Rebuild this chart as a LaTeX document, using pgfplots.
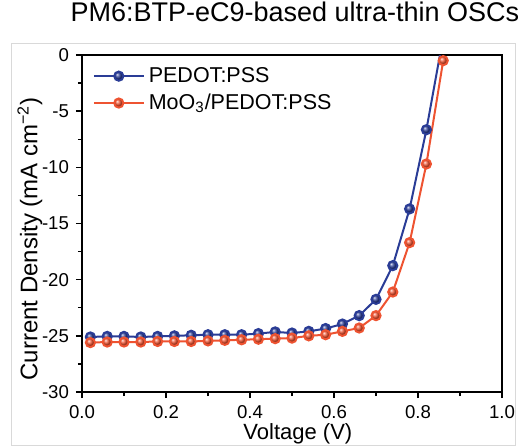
\documentclass[border=0pt]{standalone}
\usepackage{fontspec}
\setmainfont{Liberation Sans}
\usepackage{pgfplots}
\pgfplotsset{compat=1.18}
\definecolor{cblue}{HTML}{2A3C96}
\definecolor{cred}{HTML}{EE5331}

\begin{document}
\begin{tikzpicture}
  \useasboundingbox (-41pt,-27.5pt) rectangle (218.5pt,196pt);
  \draw[gray!30, line width=0.5pt] (-35pt,-26.5pt) rectangle (216.5pt,174.5pt);
  \begin{axis}[
    at={(0,0)}, anchor=south west,
    scale only axis, width=210pt, height=168.5pt,
    xmin=0, xmax=1, ymin=-30, ymax=0,
    axis line style={line width=0.8pt},
    xtick={0,0.2,...,1.0}, ytick={-30,-25,...,0},
    minor x tick num=1, minor y tick num=1,
    tick pos=left, tick align=outside,
    major tick length=3pt, minor tick length=2pt,
    every tick/.style={black, line width=0.7pt},
    /pgf/number format/assume math mode=true,
    xticklabel={\pgfmathprintnumber[fixed,fixed zerofill,precision=1]{\tick}},
    tick label style={font=\fontsize{9.3}{10}\selectfont},
    title={PM6:BTP-eC9-based ultra-thin OSCs},
    title style={at={(axis description cs:0.507,1.065)}, anchor=base,
      font=\fontsize{13.5}{15}\selectfont, inner sep=0pt},
    xlabel={Voltage (V)},
    xlabel style={at={(axis description cs:0.514,-0.1424)}, anchor=base,
      font=\fontsize{11}{12}\selectfont, inner sep=0pt},
    ylabel={Current Density (mA cm\textsuperscript{−2})},
    ylabel style={at={(axis description cs:-0.124,0.454)}, anchor=center,
      font=\fontsize{12}{13}\selectfont, inner sep=0pt},
    legend style={draw=none, fill=none, at={(axis description cs:0.02,0.983)},
      anchor=north west, font=\fontsize{10.75}{12.5}\selectfont,
      inner sep=1pt, row sep=0.3pt},
    legend cell align=left,
    legend image code/.code={
      \draw[#1, mark repeat=2, mark phase=2]
        plot coordinates {(0pt,0pt) (12.5pt,0pt) (25pt,0pt)};
    },
  ]
    \addplot[cblue, line width=1pt, mark=ball, mark size=2.3pt,
      mark options={ball color=cblue}] coordinates {
      (0.02,-25.10) (0.06,-25.05) (0.10,-25.05) (0.14,-25.10) (0.18,-25.05)
      (0.22,-25.00) (0.26,-24.95) (0.30,-24.90) (0.34,-24.90) (0.38,-24.90)
      (0.42,-24.80) (0.46,-24.65) (0.50,-24.75) (0.54,-24.60) (0.58,-24.35)
      (0.62,-23.95) (0.66,-23.20) (0.70,-21.75) (0.74,-18.75) (0.78,-13.70)
      (0.82,-6.65) (0.86,1.60)
    };
    \addlegendentry{PEDOT:PSS}
    \addplot[cred, line width=1pt, mark=ball, mark size=2.3pt,
      mark options={ball color=cred}] coordinates {
      (0.02,-25.60) (0.06,-25.55) (0.10,-25.55) (0.14,-25.55) (0.18,-25.50)
      (0.22,-25.50) (0.26,-25.50) (0.30,-25.45) (0.34,-25.40) (0.38,-25.35)
      (0.42,-25.30) (0.46,-25.25) (0.50,-25.20) (0.54,-25.00) (0.58,-24.90)
      (0.62,-24.60) (0.66,-24.30) (0.70,-23.20) (0.74,-21.10) (0.78,-16.70)
      (0.82,-9.70) (0.86,-0.50)
    };
    \addlegendentry{MoO\textsubscript{3}/PEDOT:PSS}
  \end{axis}
\end{tikzpicture}
\end{document}
